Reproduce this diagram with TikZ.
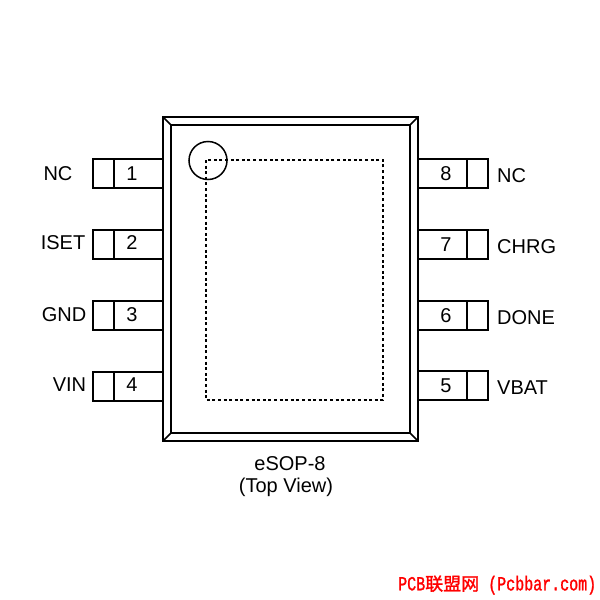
\documentclass[tikz,border=0pt]{standalone}
\usepackage{fontspec}
\setmainfont{Liberation Sans}
\newfontfamily\markfont[FakeStretch=0.75,FakeBold=1.2]{Liberation Mono}
\newfontfamily\markcjk[FakeBold=1.5]{Noto Sans CJK SC}
\tikzset{
  outline/.style={line width=1.6pt,line join=miter},
  pintext/.style={inner sep=0pt,font=\fontsize{20}{22}\selectfont},
}
\begin{document}
\begin{tikzpicture}[x=1pt,y=-1pt]
\def\xl{163} \def\xr{418}
\def\yt{117} \def\yb{441}
\def\ins{8}
\useasboundingbox (0,0) rectangle (600,600);

% package
\draw[outline] (\xl,\yt) rectangle (\xr,\yb);
\draw[outline] (\xl+\ins,\yt+\ins) rectangle (\xr-\ins,\yb-\ins);
\foreach \cx/\cy/\dx/\dy in {\xl/\yt/1/1,\xr/\yt/-1/1,\xl/\yb/1/-1,\xr/\yb/-1/-1}
\draw[outline] (\cx,\cy) --++ (\dx*\ins,\dy*\ins);

% pad and pin 1 mark
\draw[line width=1.5pt,dash pattern=on 3pt off 2.6pt] (206,160) rectangle (383,400);
\draw[line width=1.5pt] (208,160.5) circle (19);

% pins
\foreach \n/\y/\ty/\lx/\lab in {1/159/174/58/NC,2/230/243/63/ISET,3/301/315/64/GND,4/372/385/69.5/VIN}{
\draw[outline] (\xl,\y) -- (93,\y) -- (93,\y+29) -- (\xl,\y+29) (114,\y) --++ (0,29);
\node[pintext] (num\n) at (132,\ty) {\n};
\node[pintext] (lab\n) at (\lx,\ty-0.5) {\lab};
}
\foreach \n/\y/\ty/\lab in {8/159/174/NC,7/230/245/CHRG,6/301/316/DONE,5/371/386/VBAT}{
\draw[outline] (\xr,\y) -- (488,\y) -- (488,\y+29) -- (\xr,\y+29) (467,\y) --++ (0,29);
\node[pintext] (num\n) at (446,\ty) {\n};
\node[pintext,anchor=west] (lab\n) at (497,\ty+1.5) {\lab};
}

\node[pintext] (title) at (290,464) {eSOP-8};
\node[pintext] (view) at (286,487) {(Top View)};
\node[inner sep=0pt,anchor=west,text=red] (mark) at (398,585)
{\fontsize{20}{20}\selectfont\markfont PCB\fontsize{18}{20}\selectfont\markcjk 联盟网\fontsize{20}{20}\selectfont\markfont{} (Pcbbar.com)};
\end{tikzpicture}
\end{document}
